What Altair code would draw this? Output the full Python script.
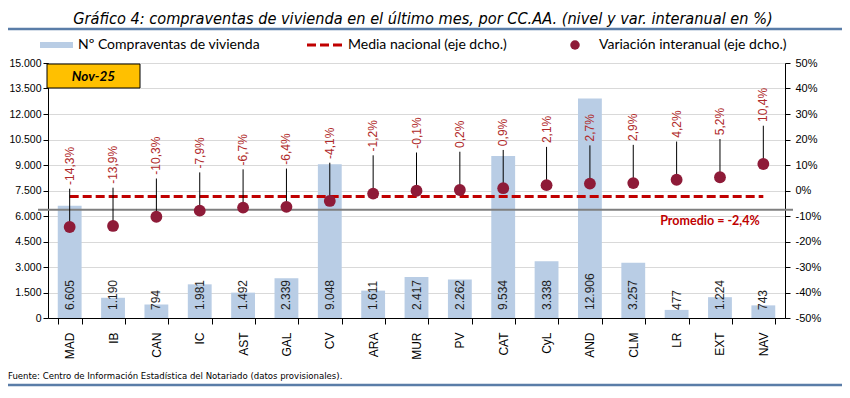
import altair as alt
import pandas as pd

# ---------------- data ----------------
regiones = ["MAD", "IB", "CAN", "IC", "AST", "GAL", "CV", "ARA", "MUR", "PV",
            "CAT", "CyL", "AND", "CLM", "LR", "EXT", "NAV"]
compraventas = [6605, 1190, 794, 1981, 1492, 2339, 9048, 1611, 2417, 2262,
                9534, 3338, 12906, 3257, 477, 1224, 743]
variacion = [-14.3, -13.9, -10.3, -7.9, -6.7, -6.4, -4.1, -1.2, -0.1, 0.2,
             0.9, 2.1, 2.7, 2.9, 4.2, 5.2, 10.4]
media_nacional = -2.4
periodo = "Nov-25"
ticks_izq = list(range(0, 15001, 1500))
ticks_dcha = list(range(-50, 51, 10))

titulo = "Gráfico 4: compraventas de vivienda en el último mes, por CC.AA. (nivel y var. interanual en %)"
fuente = "Fuente: Centro de Información Estadística del Notariado (datos provisionales)."
leyenda = ["Nº Compraventas de vivienda", "Media nacional (eje dcho.)", "Variación interanual (eje dcho.)"]
promedio_txt = "Promedio = -2,4%"

df = pd.DataFrame({
    "region": regiones,
    "compraventas": compraventas,
    "variacion": variacion,
    "media": [media_nacional] * len(regiones),
})
df["lbl_cv"] = [f"{v:,}".replace(",", ".") for v in compraventas]
df["lbl_var"] = [f"{v:.1f}".replace(".", ",") + "%" for v in variacion]

W, H = 737, 255
BAR = "#B9CDE5"
DOT = "#8E1B38"
RED = "#C00000"
LBLRED = "#B02A2A"
NARROW = "Liberation Sans Narrow, DejaVu Sans Condensed, Roboto, sans-serif"

x_scale = alt.Scale(domain=regiones, paddingInner=0.45, paddingOuter=0.225)
yl_scale = alt.Scale(domain=[0, 15000], nice=False, zero=True)
yr_scale = alt.Scale(domain=[-50, 50], nice=False, zero=False)

x_axis = alt.Axis(title=None, labelAngle=-90, labelAlign="right", labelBaseline="middle",
                  labelPadding=8, tickBand="extent", tickSize=6, tickColor="#000",
                  domainColor="#000", labelFont="Liberation Sans", labelFontSize=12,
                  labelColor="#000", grid=False)
yl_axis = alt.Axis(title=None, values=ticks_izq,
                   labelExpr="replace(format(datum.value, ','), ',', '.')",
                   grid=True, gridColor="#D9D9D9", gridWidth=1, tickSize=5, tickColor="#000",
                   domainColor="#000", labelFont="Liberation Sans", labelFontSize=10.5,
                   labelColor="#000", labelPadding=2)
yr_axis = alt.Axis(title=None, orient="right", values=ticks_dcha,
                   labelExpr="(datum.value >= 0 ? '\u2002' : '') + datum.value + '%'",
                   grid=False, tickSize=5, tickColor="#000", domainColor="#000",
                   labelFont="Liberation Sans", labelFontSize=11, labelColor="#000", labelPadding=5)


def X():
    return alt.X("region:N", sort=regiones, scale=x_scale, axis=x_axis)


def YL(field):
    return alt.Y(field, scale=yl_scale, axis=yl_axis)


def YR(field):
    return alt.Y(field, scale=yr_scale, axis=yr_axis)


base = alt.Chart(df)

bars = base.mark_bar(color=BAR).encode(x=X(), y=YL("compraventas:Q"))
bar_lbl = base.mark_text(angle=270, align="left", baseline="middle", dx=8,
                         font="Liberation Sans", fontSize=12, color="#1E1E1E").encode(
    x=X(), y=YL("zero:Q"), text="lbl_cv:N",
).transform_calculate(zero="0")

left = alt.layer(bars, bar_lbl)

one = alt.Chart(alt.Data(values=[{"k": 0}]))

# right-axis layers
gris = one.mark_rule(color="#7F7F7F", strokeWidth=2).encode(
    x=alt.value(-10), x2=alt.value(W + 8), y=YR("v:Q"),
).transform_calculate(v="-7.5")

media_line = base.mark_line(color=RED, strokeWidth=3, strokeDash=[9, 4]).encode(
    x=X(), y=YR("media:Q"))

leader = base.mark_rule(color="#000", strokeWidth=1).encode(
    x=X(), y=YR("variacion:Q"), y2="top:Q"
).transform_calculate(top="datum.variacion + 15")

dots = base.mark_circle(color=DOT, opacity=1, size=140).encode(
    x=X(), y=YR("variacion:Q"))

var_lbl = base.mark_text(angle=270, align="left", baseline="middle",
                         font="Liberation Sans", fontSize=12, color=LBLRED).encode(
    x=X(), y=YR("ly:Q"), text="lbl_var:N"
).transform_calculate(ly="datum.variacion + 16.5")

prom = one.mark_text(align="center", baseline="middle", font="Lato", fontWeight="bold",
                     fontSize=12.5, color=RED, text=promedio_txt, dy=24).encode(
    x=alt.value(662), y=YR("m:Q")
).transform_calculate(m=str(media_nacional))

# Nov-25 box
box = one.mark_rect(fill="#FFC000", stroke="#000", strokeWidth=1).encode(
    x=alt.value(-1), x2=alt.value(92), y=alt.value(1), y2=alt.value(25))
box_txt = one.mark_text(text=periodo, font="Lato", fontWeight="bold", fontStyle="italic",
                        fontSize=13.5, color="#000", align="center", baseline="middle").encode(
    x=alt.value(45.5), y=alt.value(13.5))

# title, lines, footer
title_txt = one.mark_text(text=titulo, font=NARROW, fontStyle="italic",
                          fontSize=16.2, color="#000", align="center", baseline="alphabetic").encode(
    x=alt.value(375), y=alt.value(-39))
title_line = one.mark_rule(color="#5A7DA8", strokeWidth=2.5).encode(
    x=alt.value(-40), x2=alt.value(W + 57), y=alt.value(-34))
foot_txt = one.mark_text(text=fuente, font=NARROW, fontSize=9.5,
                         color="#000", align="left", baseline="alphabetic").encode(
    x=alt.value(-40), y=alt.value(316))
foot_line = one.mark_rule(color="#5A7DA8", strokeWidth=2.5).encode(
    x=alt.value(-40), x2=alt.value(W + 57), y=alt.value(322))

# legend
LY = -18
leg_bar = one.mark_rect(fill=BAR).encode(
    x=alt.value(-8), x2=alt.value(25), y=alt.value(LY - 3), y2=alt.value(LY + 3))
leg_t1 = one.mark_text(text=leyenda[0], font="Lato", fontSize=14, color="#000",
                       align="left", baseline="middle").encode(x=alt.value(30), y=alt.value(LY))
leg_line = one.mark_rule(color=RED, strokeWidth=3, strokeDash=[9, 4]).encode(
    x=alt.value(259), x2=alt.value(294), y=alt.value(LY))
leg_t2 = one.mark_text(text=leyenda[1], font="Lato", fontSize=14, color="#000",
                       align="left", baseline="middle").encode(x=alt.value(300), y=alt.value(LY))
leg_dot = one.mark_circle(color=DOT, opacity=1, size=90).encode(
    x=alt.value(527), y=alt.value(LY))
leg_t3 = one.mark_text(text=leyenda[2], font="Lato", fontSize=14, color="#000",
                       align="left", baseline="middle").encode(x=alt.value(551), y=alt.value(LY))

right = alt.layer(gris, media_line, leader, dots, var_lbl, prom, box, box_txt,
                  title_txt, title_line, foot_txt, foot_line,
                  leg_bar, leg_t1, leg_line, leg_t2, leg_dot, leg_t3)

chart = alt.layer(left, right).resolve_scale(y="independent").properties(
    width=W, height=H,
    autosize=alt.AutoSizeParams(type="none"),
    padding={"left": 40, "top": 55, "right": 57, "bottom": 70},
    background="white",
).configure_view(stroke=None)

chart.save("out.html", embed_options={"renderer": "svg", "actions": False})
